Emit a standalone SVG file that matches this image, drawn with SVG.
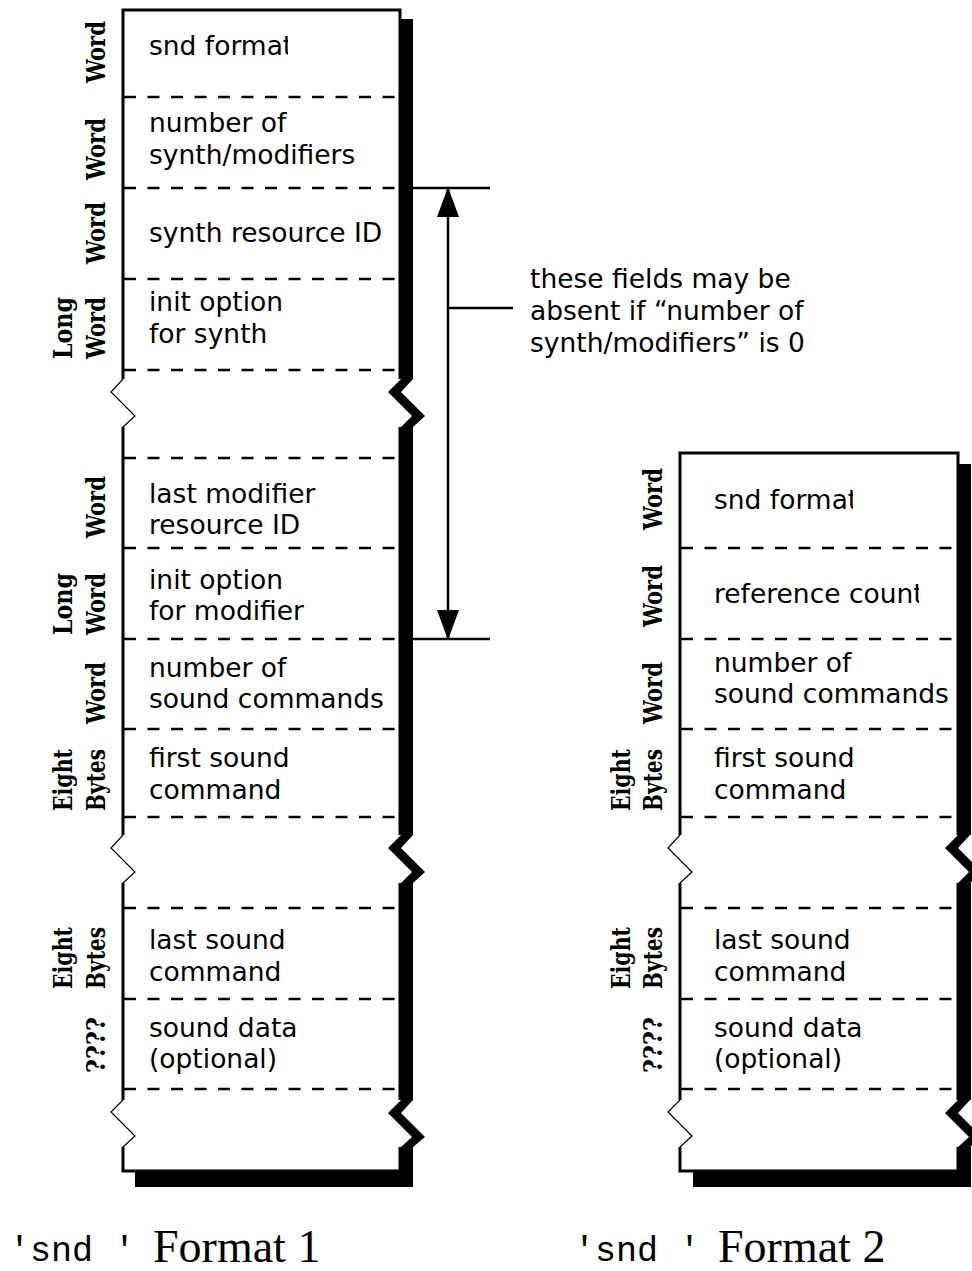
<svg xmlns="http://www.w3.org/2000/svg" width="972" height="1271" viewBox="0 0 972 1271">
<style>
.edge{stroke:#000;stroke-width:3;fill:none}
.dash{stroke:#000;stroke-width:2.7;stroke-dasharray:12 11.5;fill:none}
.zig{stroke:#000;stroke-width:1.2;fill:none}
.sh{fill:#000}
.t{font-family:"DejaVu Sans",Verdana,sans-serif;font-size:26.5px;fill:#000}
.lbl{font-family:"DejaVu Serif",serif;font-size:26px;font-weight:bold;fill:#000;text-anchor:middle}
.mono{font-family:"Liberation Mono",monospace;font-size:35px;fill:#000}
.serif{font-family:"Liberation Serif",serif;font-size:46px;fill:#000}
.conn{stroke:#000;stroke-width:2.5;fill:none}
</style>
<defs>
<marker id="ah" viewBox="0 0 30 22" refX="29" refY="11" markerWidth="30" markerHeight="22" markerUnits="userSpaceOnUse" orient="auto-start-reverse">
<path d="M0,0 L30,11 L0,22 z" fill="#000"/>
</marker>
<clipPath id="clipA"><rect x="140" y="20" width="148" height="50"/></clipPath>
<clipPath id="clipC"><rect x="700" y="470" width="153" height="50"/></clipPath>
<clipPath id="clipB"><rect x="700" y="570" width="219" height="50"/></clipPath>
</defs>
<rect width="972" height="1271" fill="#fff"/>

<g id="format1">
<rect class="sh" x="401" y="19" width="12" height="360"/>
<polygon class="sh" points="401,379 388,392 412,416 401,427 413,427 425,416 401,392 413,379"/>
<rect class="sh" x="401" y="427" width="12" height="408"/>
<polygon class="sh" points="401,835 388,848 412,872 401,883 413,883 425,872 401,848 413,835"/>
<rect class="sh" x="401" y="883" width="12" height="217"/>
<polygon class="sh" points="401,1100 388,1113 412,1137 401,1147 413,1147 425,1137 401,1113 413,1100"/>
<rect class="sh" x="401" y="1147" width="12" height="40"/>
<rect class="sh" x="135" y="1172" width="278" height="15"/>
<path class="edge" d="M123,379 V10 H400 V379 M123,427 V835 M400,427 V835 M123,883 V1100 M400,883 V1100 M123,1147 V1171 H400 V1147"/>
<path class="zig" d="M123,379 L111,392 L135,416 L123,427 M123,835 L111,848 L135,872 L123,883 M123,1100 L111,1112 L135,1136 L123,1147"/>
<path class="dash" d="M124,97 H399 M124,188 H399 M124,279 H399 M124,370 H399 M124,458 H399 M124,548 H399 M124,639 H399 M124,729 H399 M124,817 H399 M124,908 H399 M124,999 H399 M124,1089 H399"/>
<text class="t" x="149" y="55" clip-path="url(#clipA)">snd format</text>
<text class="t" x="149" y="132">number of</text>
<text class="t" x="149" y="164">synth/modifiers</text>
<text class="t" x="149" y="242">synth resource ID</text>
<text class="t" x="149" y="311">init option</text>
<text class="t" x="149" y="343">for synth</text>
<text class="t" x="149" y="503">last modifier</text>
<text class="t" x="149" y="534">resource ID</text>
<text class="t" x="149" y="589">init option</text>
<text class="t" x="149" y="620">for modifier</text>
<text class="t" x="149" y="677">number of</text>
<text class="t" x="149" y="708">sound commands</text>
<text class="t" x="149" y="767">first sound</text>
<text class="t" x="149" y="799">command</text>
<text class="t" x="149" y="949">last sound</text>
<text class="t" x="149" y="981">command</text>
<text class="t" x="149" y="1037">sound data</text>
<text class="t" x="149" y="1068">(optional)</text>
<text class="lbl" transform="translate(105,52) rotate(-90)" textLength="62" lengthAdjust="spacingAndGlyphs">Word</text>
<text class="lbl" transform="translate(105,149) rotate(-90)" textLength="62" lengthAdjust="spacingAndGlyphs">Word</text>
<text class="lbl" transform="translate(105,233) rotate(-90)" textLength="62" lengthAdjust="spacingAndGlyphs">Word</text>
<text class="lbl" transform="translate(72,328) rotate(-90)" textLength="62" lengthAdjust="spacingAndGlyphs">Long</text>
<text class="lbl" transform="translate(105,328) rotate(-90)" textLength="62" lengthAdjust="spacingAndGlyphs">Word</text>
<text class="lbl" transform="translate(105,507) rotate(-90)" textLength="62" lengthAdjust="spacingAndGlyphs">Word</text>
<text class="lbl" transform="translate(72,604) rotate(-90)" textLength="62" lengthAdjust="spacingAndGlyphs">Long</text>
<text class="lbl" transform="translate(105,604) rotate(-90)" textLength="62" lengthAdjust="spacingAndGlyphs">Word</text>
<text class="lbl" transform="translate(105,693) rotate(-90)" textLength="62" lengthAdjust="spacingAndGlyphs">Word</text>
<text class="lbl" transform="translate(72,780) rotate(-90)" textLength="62" lengthAdjust="spacingAndGlyphs">Eight</text>
<text class="lbl" transform="translate(105,780) rotate(-90)" textLength="62" lengthAdjust="spacingAndGlyphs">Bytes</text>
<text class="lbl" transform="translate(72,958) rotate(-90)" textLength="62" lengthAdjust="spacingAndGlyphs">Eight</text>
<text class="lbl" transform="translate(105,958) rotate(-90)" textLength="62" lengthAdjust="spacingAndGlyphs">Bytes</text>
<text class="lbl" transform="translate(105,1045) rotate(-90)" textLength="56" lengthAdjust="spacingAndGlyphs">????</text>
</g>

<g id="format2">
<rect class="sh" x="959" y="464" width="12" height="371"/>
<polygon class="sh" points="958,835 945,848 969,872 958,883 970,883 982,872 958,848 970,835"/>
<rect class="sh" x="959" y="883" width="12" height="217"/>
<polygon class="sh" points="958,1100 945,1113 969,1137 958,1147 970,1147 982,1137 958,1113 970,1100"/>
<rect class="sh" x="959" y="1147" width="12" height="40"/>
<rect class="sh" x="693" y="1172" width="278" height="15"/>
<path class="edge" d="M680,835 V453 H958 V835 M680,883 V1100 M958,883 V1100 M680,1147 V1171 H958 V1147"/>
<path class="zig" d="M680,835 L668,848 L692,872 L680,883 M680,1100 L668,1112 L692,1136 L680,1147"/>
<path class="dash" d="M681,548 H957 M681,639 H957 M681,729 H957 M681,817 H957 M681,908 H957 M681,999 H957 M681,1089 H957"/>
<text class="t" x="714" y="509" clip-path="url(#clipC)">snd format</text>
<text class="t" x="714" y="603" clip-path="url(#clipB)">reference count</text>
<text class="t" x="714" y="672">number of</text>
<text class="t" x="714" y="703">sound commands</text>
<text class="t" x="714" y="767">first sound</text>
<text class="t" x="714" y="799">command</text>
<text class="t" x="714" y="949">last sound</text>
<text class="t" x="714" y="981">command</text>
<text class="t" x="714" y="1037">sound data</text>
<text class="t" x="714" y="1068">(optional)</text>
<text class="lbl" transform="translate(662,499) rotate(-90)" textLength="62" lengthAdjust="spacingAndGlyphs">Word</text>
<text class="lbl" transform="translate(662,596) rotate(-90)" textLength="62" lengthAdjust="spacingAndGlyphs">Word</text>
<text class="lbl" transform="translate(662,693) rotate(-90)" textLength="62" lengthAdjust="spacingAndGlyphs">Word</text>
<text class="lbl" transform="translate(630,780) rotate(-90)" textLength="62" lengthAdjust="spacingAndGlyphs">Eight</text>
<text class="lbl" transform="translate(662,780) rotate(-90)" textLength="62" lengthAdjust="spacingAndGlyphs">Bytes</text>
<text class="lbl" transform="translate(630,958) rotate(-90)" textLength="62" lengthAdjust="spacingAndGlyphs">Eight</text>
<text class="lbl" transform="translate(662,958) rotate(-90)" textLength="62" lengthAdjust="spacingAndGlyphs">Bytes</text>
<text class="lbl" transform="translate(662,1045) rotate(-90)" textLength="56" lengthAdjust="spacingAndGlyphs">????</text>
</g>

<g id="connectors">
<path class="conn" d="M401,188 H490 M401,639 H490 M448,308 H513"/>
<line class="conn" x1="448" y1="188" x2="448" y2="639" marker-start="url(#ah)" marker-end="url(#ah)"/>
</g>

<g id="note">
<text class="t" x="530" y="288">these fields may be</text>
<text class="t" x="530" y="320">absent if “number of</text>
<text class="t" x="530" y="352">synth/modifiers” is 0</text>
</g>

<g id="captions">
<text class="mono" x="9" y="1261">'snd '</text>
<text class="serif" x="153" y="1262">Format 1</text>
<text class="mono" x="574" y="1261">'snd '</text>
<text class="serif" x="718" y="1262">Format 2</text>
</g>
</svg>
